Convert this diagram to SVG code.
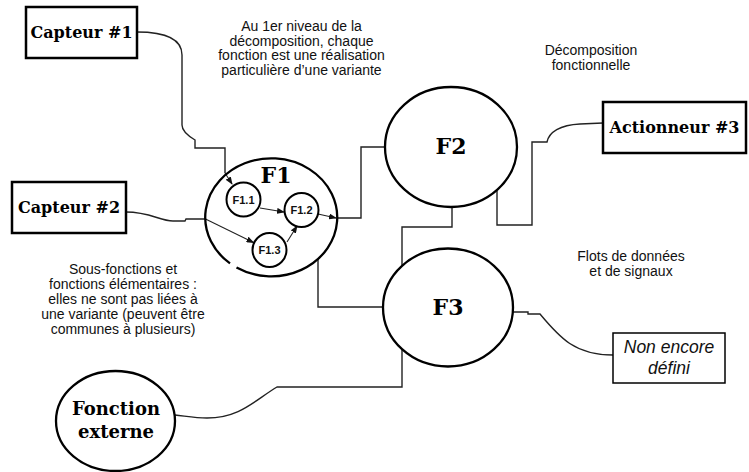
<svg xmlns="http://www.w3.org/2000/svg" width="749" height="472" viewBox="0 0 749 472">
<style>
.box{fill:#fff;stroke:#000;stroke-width:2.5}
.box2{fill:#fff;stroke:#000;stroke-width:1.5}
.ell{fill:none;stroke:#000;stroke-width:2.3}
.sub{fill:#fff;stroke:#000;stroke-width:2}
.con{fill:none;stroke:#222;stroke-width:1.4}
.arr{fill:none;stroke:#222;stroke-width:1.1}
.ser{font-family:"DejaVu Serif",serif;font-weight:bold;fill:#000}
.sans{font-family:"Liberation Sans",Arial,sans-serif;fill:#111}
.note{font-family:"Liberation Sans",Arial,sans-serif;font-size:14px;fill:#111;text-anchor:middle}
</style>
<defs>
<marker id="ah" markerWidth="8" markerHeight="6" refX="7" refY="3" orient="auto" markerUnits="userSpaceOnUse">
<path d="M0,0 L8,3 L0,6 Z" fill="#111"/>
</marker>
</defs>
<rect width="749" height="472" fill="#fff"/>

<g id="connectors">
<path class="con" d="M137 32 C160 32 182 36 182 55 L182 125 C182 132 190 137 195 140 L195 148 L225 148 L225 173"/>
<path class="arr" d="M225 173 L232 184" marker-end="url(#ah)"/>
<path class="con" d="M126 212 C150 212 160 221 173 221 L185 221 L186 219 L205.5 219"/>
<path class="arr" d="M205.5 219 L253.5 242.5" marker-end="url(#ah)"/>
<path class="arr" d="M260 208 L284 212" marker-end="url(#ah)"/>
<path class="arr" d="M287 242 L297 226" marker-end="url(#ah)"/>
<path class="arr" d="M318 214 L336 218" marker-end="url(#ah)"/>
<path class="con" d="M337 218 L361 218 L361 147 L385 147"/>
<path class="con" d="M452 207 L452 227 L402 227 L402 265"/>
<path class="con" d="M497 191 L497 225 L532 225 L532 142 L547 142 C549 132 560 125 580 124 L603 123"/>
<path class="con" d="M318 259 L318 307 L383 307"/>
<path class="con" d="M402 349 L402 387 L277 387 C255 400 240 418 207 418 C195 418 185 416 175 415"/>
<path class="con" d="M513 312 L528 312 L528 314 L540 314 C560 338 575 355 613 355"/>
</g>

<g id="capteur1">
<rect class="box" x="26" y="7" width="111" height="51"/>
<text class="ser" x="81.5" y="38" font-size="16" text-anchor="middle">Capteur #1</text>
</g>
<g id="capteur2">
<rect class="box" x="12" y="182" width="114" height="51"/>
<text class="ser" x="69" y="213" font-size="16" text-anchor="middle">Capteur #2</text>
</g>
<g id="actionneur3">
<rect class="box" x="603" y="102" width="143" height="51"/>
<text class="ser" x="674.5" y="133" font-size="16" text-anchor="middle">Actionneur #3</text>
</g>

<g id="F1">
<path class="ell" d="M236.5 267.5 A66 59 0 1 0 230 263.4"/>
<text class="ser" x="276" y="183" font-size="22" text-anchor="middle">F1</text>
</g>
<g id="F1.1">
<circle class="sub" cx="243.5" cy="199.5" r="17"/>
<text class="sans" x="243.5" y="203.5" font-size="11" font-weight="bold" text-anchor="middle">F1.1</text>
</g>
<g id="F1.2">
<circle class="sub" cx="301.5" cy="210" r="17"/>
<text class="sans" x="301.5" y="214" font-size="11" font-weight="bold" text-anchor="middle">F1.2</text>
</g>
<g id="F1.3">
<circle class="sub" cx="269.5" cy="250" r="17"/>
<text class="sans" x="269.5" y="254" font-size="11" font-weight="bold" text-anchor="middle">F1.3</text>
</g>

<g id="F2">
<ellipse class="ell" cx="451" cy="147" rx="66" ry="60"/>
<text class="ser" x="451" y="154" font-size="22" text-anchor="middle">F2</text>
</g>
<g id="F3">
<ellipse class="ell" cx="448" cy="307.5" rx="65" ry="59"/>
<text class="ser" x="448" y="315" font-size="22" text-anchor="middle">F3</text>
</g>

<g id="fonction-externe">
<ellipse class="ell" cx="115.5" cy="421" rx="59.5" ry="50"/>
<text class="ser" x="116" y="415" font-size="18" text-anchor="middle">Fonction</text>
<text class="ser" x="116" y="438" font-size="18" text-anchor="middle">externe</text>
</g>

<g id="non-encore-defini">
<rect class="box2" x="613" y="333" width="112" height="50"/>
<text class="sans" x="669" y="353" font-size="17.5" font-style="italic" text-anchor="middle">Non encore</text>
<text class="sans" x="669" y="374" font-size="17.5" font-style="italic" text-anchor="middle">défini</text>
</g>

<g id="notes">
<text class="note" x="301.5" y="31">Au 1er niveau de la</text>
<text class="note" x="301.5" y="45.5">décomposition, chaque</text>
<text class="note" x="301.5" y="60">fonction est une réalisation</text>
<text class="note" x="301.5" y="74.5">particulière d’une variante</text>
<text class="note" x="591" y="55">Décomposition</text>
<text class="note" x="591" y="69.5">fonctionnelle</text>
<text class="note" x="631" y="261">Flots de données</text>
<text class="note" x="631" y="275.5">et de signaux</text>
<text class="note" x="123" y="274">Sous-fonctions et</text>
<text class="note" x="123" y="289">fonctions élémentaires :</text>
<text class="note" x="123" y="304">elles ne sont pas liées à</text>
<text class="note" x="123" y="319">une variante (peuvent être</text>
<text class="note" x="123" y="334">communes à plusieurs)</text>
</g>
</svg>
